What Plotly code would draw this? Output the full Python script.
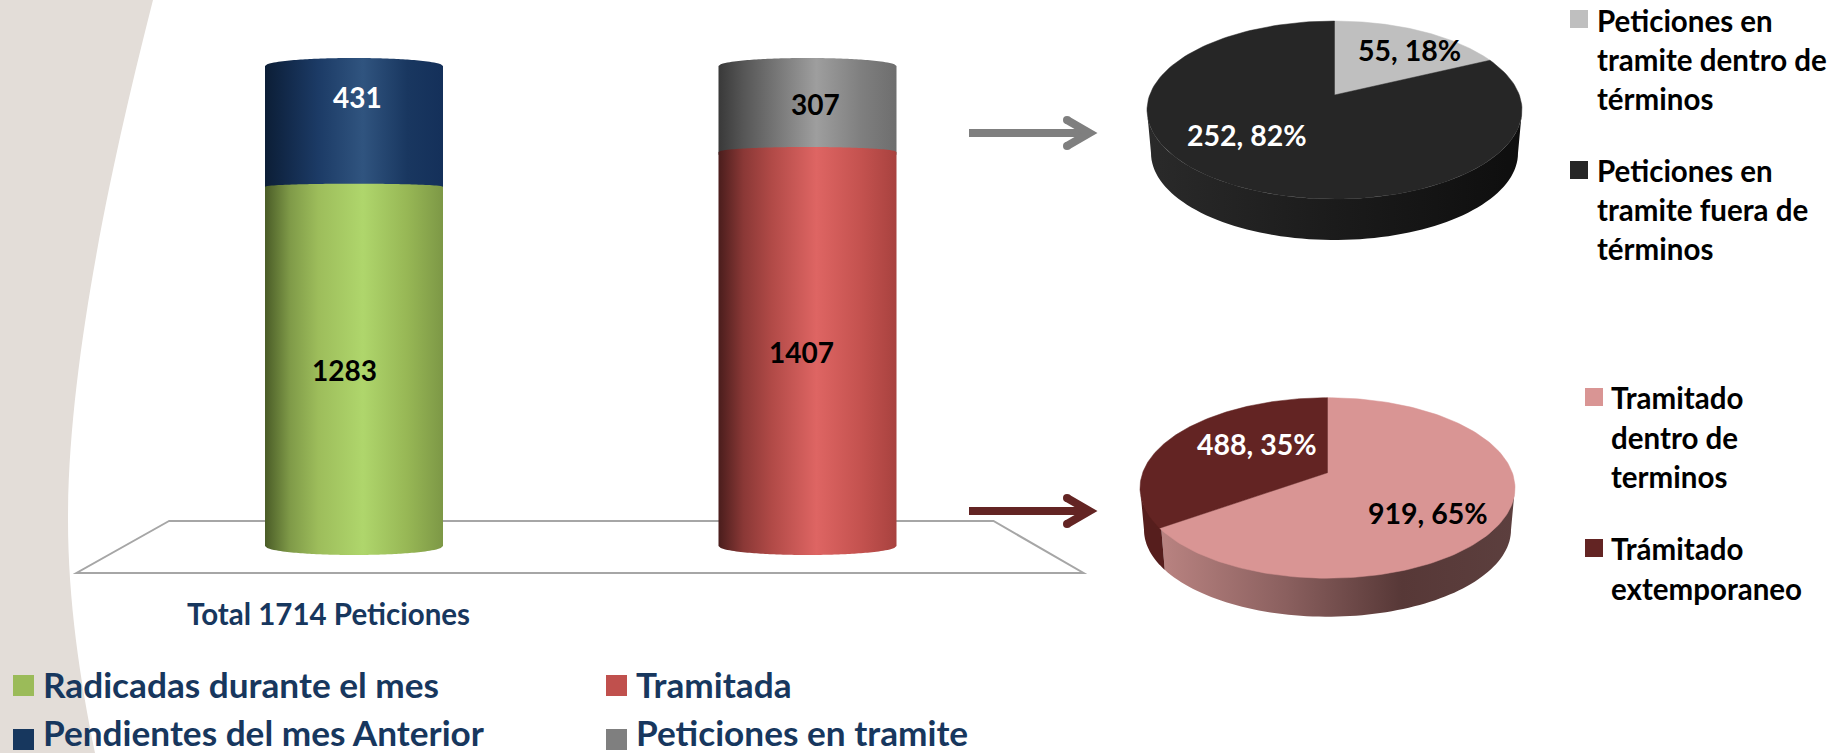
import numpy as np
import plotly.graph_objects as go

# ---------- data ----------
bar_names = ["Radicadas durante el mes", "Tramitada"]
lower_values = [1283, 1407]
upper_values = [431, 307]
upper_names = ["Pendientes del mes Anterior", "Peticiones en tramite"]
total_label = "Total 1714 Peticiones"
pie1_labels = ["Peticiones en<br>tramite dentro de<br>términos", "Peticiones en<br>tramite fuera de<br>términos"]
pie1_values = [55, 252]
pie2_labels = ["Tramitado<br>dentro de<br>terminos", "Trámitado<br>extemporaneo"]
pie2_values = [919, 488]

# ---------- palette ----------
C_NAVY = "#17375E"
lower_scales = [
    [[0, "#4A5C27"], [.14, "#7F9A48"], [.3, "#9DBD5B"], [.55, "#AFD66C"], [.8, "#97B755"], [1, "#7D9846"]],
    [[0, "#4A1D1C"], [.14, "#8A3836"], [.3, "#B14A47"], [.55, "#DE6563"], [.8, "#C4524F"], [1, "#A8423F"]],
]
upper_scales = [
    [[0, "#0C1E36"], [.14, "#132B4D"], [.3, "#1C3B66"], [.55, "#30547F"], [.8, "#193760"], [1, "#14305A"]],
    [[0, "#393939"], [.14, "#565656"], [.3, "#727272"], [.55, "#9E9E9E"], [.8, "#7F7F7F"], [1, "#6E6E6E"]],
]
legend_colors = ["#9BBB59", "#C0504D", "#17375E", "#7F7F7F"]
pie1_top = ["#BFBFBF", "#262626"]
pie2_top = ["#D99594", "#632423"]
pie1_side = [None, [[0, "#2A2A2A"], [.5, "#1B1B1B"], [1, "#0E0E0E"]]]
pie2_side = [[[0, "#B98381"], [.35, "#8B605F"], [.68, "#573837"], [1, "#5C3F3E"]],
             [[0, "#561E1D"], [1, "#561E1D"]]]

# ---------- scales (page is 1837 x 753) ----------
W, H = 1837, 753
BAR_BASE_PX, BAR_TOP_PX = 546, 66
total = lower_values[0] + upper_values[0]
S = (BAR_BASE_PX - BAR_TOP_PX) / total          # px per unit
BAR_CX0, BAR_STEP = 354, 453.5
BAR_HALF = 89 / BAR_STEP

fig = go.Figure()


def cylinder_piece(i, v0, v1, sag0, sag1, scale):
    t = np.linspace(-1, 1, 81)
    arc = np.sqrt(1 - t ** 2)
    xs = np.r_[i + BAR_HALF * t, i + BAR_HALF * t[::-1]]
    ys = np.r_[v0 + sag0 / S * arc, v1 + sag1 / S * arc[::-1]]
    fig.add_trace(go.Scatter(x=xs, y=ys, mode="none", fill="toself", hoverinfo="skip", showlegend=False,
                             fillgradient=dict(type="horizontal", colorscale=scale)))


division_arch = [3, 5]
for i in range(2):
    lo, up = lower_values[i], upper_values[i]
    cylinder_piece(i, lo - 10, lo + up, 0, 8, upper_scales[i])
    cylinder_piece(i, 0, lo, -9, division_arch[i], lower_scales[i])

# ---------- 3-D pies on a page-pixel overlay axis ----------
K, RX, RY, DEPTH = 0.169, 187.5, 89, 43
A = RX * np.sqrt(1 - K ** 2)


def project(theta, apex_up):
    b = (RY - apex_up) * (1 + K)
    r = np.radians(theta)
    u, v = np.sin(r), np.cos(r)
    d = 1 + K * v
    return A * u / d, -(b * v / d) - apex_up


def draw_pie(cx, cy, values, tops, sides, apex_up=15):
    edges = np.r_[0, np.cumsum(values) / np.sum(values) * 360]
    phis = []
    for e in edges:
        px, py = project(e, apex_up)
        phis.append(np.degrees(np.arctan2(px / RX, -py / RY)) % 360)
    phis[-1] = 360
    phis[0] = 0
    for j in range(len(values)):
        a0, a1 = max(phis[j], 90), min(phis[j + 1], 270)
        if a1 > a0 and sides[j] is not None:
            ph = np.radians(np.linspace(a0, a1, 80))
            xt, yt = cx + RX * np.sin(ph), cy - RY * np.cos(ph)
            xb, yb = cx + (RX - 4) * np.sin(ph), cy + DEPTH - (RY - 2) * np.cos(ph)
            fig.add_trace(go.Scatter(x=np.r_[xt, xb[::-1]], y=np.r_[yt, yb[::-1]], xaxis="x2", yaxis="y2",
                                     mode="none", fill="toself", hoverinfo="skip", showlegend=False,
                                     fillgradient=dict(type="horizontal", colorscale=sides[j])))
    for j in range(len(values)):
        th = np.linspace(edges[j], edges[j + 1], 160)
        px, py = project(th, apex_up)
        fig.add_trace(go.Scatter(x=np.r_[cx, cx + px, cx], y=np.r_[cy - apex_up, cy + py, cy - apex_up],
                                 xaxis="x2", yaxis="y2", mode="lines", line=dict(color=tops[j], width=0.5),
                                 fill="toself", fillcolor=tops[j], hoverinfo="skip", showlegend=False))


draw_pie(1334.5, 110, pie1_values, pie1_top, pie1_side)
draw_pie(1327.5, 486.7, pie2_values, pie2_top, pie2_side, apex_up=14)

# ---------- decoration ----------
shapes = [
    dict(type="path", xref="x2", yref="y2", layer="below", line_width=0, fillcolor="#E3DDD8",
         path="M0,0 L153,0 C120,130 68,350 68,520 C68,600 80,680 95,753 L0,753 Z"),
    dict(type="path", xref="x2", yref="y2", layer="below", fillcolor="rgba(0,0,0,0)",
         line=dict(color="#A6A6A6", width=2),
         path="M169,521 L76.5,573 L1083.5,573 L993.5,521 Z"),
]


def arrow(y, x0, x1, color):
    # shaft, mitred chevron head and rounded head ends
    shapes.append(dict(type="path", xref="x2", yref="y2", line=dict(color=color, width=8),
                       path=f"M{x0},{y} L{x1-8},{y}"))
    shapes.append(dict(type="path", xref="x2", yref="y2", line=dict(color=color, width=8),
                       path=f"M{x1-31},{y-13} L{x1-8.5},{y} L{x1-31},{y+13}"))
    for sgn in (-1, 1):
        shapes.append(dict(type="circle", xref="x2", yref="y2", x0=x1 - 35, x1=x1 - 27,
                           y0=y + sgn * 13 - 4, y1=y + sgn * 13 + 4, fillcolor=color, line_width=0))


arrow(133, 969, 1098, "#7F7F7F")
arrow(511, 969, 1098, "#632423")


def square(x, y, size_x, size_y, color):
    shapes.append(dict(type="rect", xref="x2", yref="y2", x0=x, x1=x + size_x, y0=y, y1=y + size_y,
                       fillcolor=color, line_width=0))


annotations = []


def text(x, y, s, size, color, anchor="center"):
    annotations.append(dict(x=x, y=y, xref="x2", yref="y2", text=s, showarrow=False, xanchor=anchor, yanchor="middle",
                            align="left" if anchor == "left" else "center",
                            font=dict(family="Lato", size=size, color=color, weight=700)))


# column labels
text(357, 97, str(upper_values[0]), 28, "white")
text(344, 370, str(lower_values[0]), 28, "black")
text(815, 104, str(upper_values[1]), 28, "black")
text(801, 352, str(lower_values[1]), 28, "black")
text(328, 613, total_label, 29.5, C_NAVY)

# pie labels
pct = lambda v, vs: f"{v}, {round(v / sum(vs) * 100)}%"
text(1409, 50, pct(pie1_values[0], pie1_values), 28.5, "black")
text(1247, 135, pct(pie1_values[1], pie1_values), 28.5, "white")
text(1428, 513, pct(pie2_values[0], pie2_values), 28.5, "black")
text(1256.5, 444, pct(pie2_values[1], pie2_values), 28.5, "white")

# bottom legend
for (sx, tx, sy, ty, name, col) in [
    (13, 41, 675, 684, bar_names[0], legend_colors[0]),
    (606, 634, 675, 684, bar_names[1], legend_colors[1]),
    (13, 41, 729, 731.5, upper_names[0], legend_colors[2]),
    (606, 634, 729, 731.5, upper_names[1], legend_colors[3]),
]:
    square(sx, sy, 21, 21, col)
    text(tx, ty, f"{name}", 35.2, C_NAVY, "left")


# right legends: every line positioned individually to match the source spacing
def legend_block(sx, sy, tx, line_ys, label, color):
    square(sx, sy, 18, 18, color)
    for ly, line in zip(line_ys, label.split("<br>")):
        text(tx, ly, line, 29.5, "black", "left")


legend_block(1570, 10, 1594.5, [20, 59, 98], pie1_labels[0], pie1_top[0])
legend_block(1570, 161, 1594.5, [170, 209, 248], pie1_labels[1], pie1_top[1])
legend_block(1585, 388, 1609, [397, 437, 476], pie2_labels[0], pie2_top[0])
legend_block(1585, 539, 1609, [548, 588], pie2_labels[1], pie2_top[1])

hidden = dict(visible=False, fixedrange=True)
fig.update_layout(
    width=W, height=H, margin=dict(l=0, r=0, t=0, b=0), autosize=False,
    paper_bgcolor="white", plot_bgcolor="rgba(0,0,0,0)", showlegend=False,
    xaxis=dict(range=[-BAR_CX0 / BAR_STEP, (W - BAR_CX0) / BAR_STEP], domain=[0, 1], **hidden),
    yaxis=dict(range=[(BAR_BASE_PX - H) / S, BAR_BASE_PX / S], domain=[0, 1], **hidden),
    xaxis2=dict(range=[0, W], overlaying="x", domain=[0, 1], **hidden),
    yaxis2=dict(range=[H, 0], overlaying="y", domain=[0, 1], **hidden),
    shapes=shapes, annotations=annotations,
)
fig.write_html("out.html", config=dict(displayModeBar=False),
               post_script="document.body.style.margin='0';document.body.style.overflow='hidden';")
